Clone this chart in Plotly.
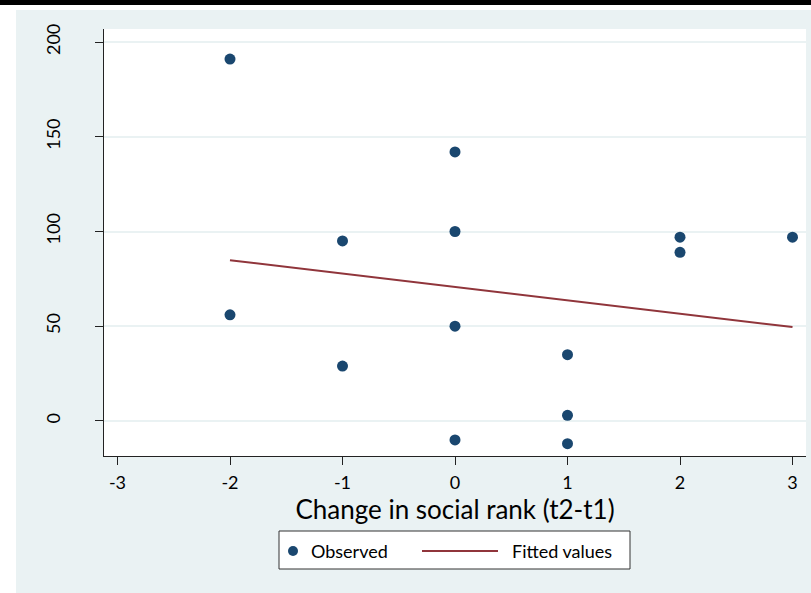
import numpy as np
import plotly.graph_objects as go

# Data
rank_change = [-2, -2, -1, -1, 0, 0, 0, 0, 1, 1, 1, 2, 2, 3]
outcome = [191, 56, 95, 29, 142, 100, 50, -10, 35, 3, -12, 97, 89, 97]
x_ticks = [-3, -2, -1, 0, 1, 2, 3]
x_tick_labels = ["-3", "-2", "-1", "0", "1", "2", "3"]
y_ticks = [0, 50, 100, 150, 200]
y_tick_labels = ["0", "50", "100", "150", "200"]
x_title = "Change in social rank (t2-t1)"
legend_labels = ["Observed", "Fitted values"]

# Linear fit (fitted values)
slope, intercept = np.polyfit(rank_change, outcome, 1)
fit_x = [min(rank_change), max(rank_change)]
fit_y = [intercept + slope * v for v in fit_x]

NAVY = "#1A476F"
MAROON = "#90353B"
BG = "#EAF2F3"
FONT = "Lato"

W, H = 811, 593
L, R, T, B = 104, 5, 29, 137
PW = W - L - R
PH = H - T - B


def px(xp):
    return (xp - L) / PW


def py(yp):
    return (H - B - yp) / PH


fig = go.Figure()
fig.add_trace(go.Scatter(
    x=rank_change, y=outcome, mode="markers", name=legend_labels[0],
    marker=dict(color=NAVY, size=11), showlegend=False))
fig.add_trace(go.Scatter(
    x=fit_x, y=fit_y, mode="lines", name=legend_labels[1],
    line=dict(color=MAROON, width=2), showlegend=False))

shapes = [
    # white margin strips and black top bar (screenshot framing)
    dict(type="rect", xref="paper", yref="paper", x0=px(0), x1=px(16), y0=py(H), y1=py(0),
         fillcolor="white", line=dict(width=0), layer="below"),
    dict(type="rect", xref="paper", yref="paper", x0=px(0), x1=px(W), y0=py(10), y1=py(0),
         fillcolor="white", line=dict(width=0), layer="below"),
    dict(type="rect", xref="paper", yref="paper", x0=px(0), x1=px(W), y0=py(5), y1=py(0),
         fillcolor="black", line=dict(width=0), layer="below"),
    # legend box
    dict(type="rect", xref="paper", yref="paper", x0=px(279), x1=px(630), y0=py(569), y1=py(531),
         fillcolor="white", line=dict(color="#333333", width=1)),
    dict(type="circle", xref="paper", yref="paper", x0=px(288), x1=px(298), y0=py(556), y1=py(546),
         fillcolor=NAVY, line=dict(width=0)),
    dict(type="line", xref="paper", yref="paper", x0=px(422), x1=px(498), y0=py(551), y1=py(551),
         line=dict(color=MAROON, width=2)),
]

annotations = [
    dict(text=legend_labels[0], xref="paper", yref="paper", x=px(309), y=py(551),
         xanchor="left", yanchor="middle", showarrow=False,
         font=dict(family=FONT, size=18, color="black")),
    dict(text=legend_labels[1], xref="paper", yref="paper", x=px(510), y=py(551),
         xanchor="left", yanchor="middle", showarrow=False,
         font=dict(family=FONT, size=18, color="black")),
]

fig.update_layout(
    width=W, height=H,
    margin=dict(l=L, r=R, t=T, b=B, pad=0),
    paper_bgcolor=BG, plot_bgcolor="white",
    font=dict(family=FONT, size=18, color="black"),
    shapes=shapes, annotations=annotations,
    showlegend=False,
    xaxis=dict(
        range=[-3.12, 3.12], tickvals=x_ticks, ticktext=x_tick_labels,
        showgrid=False, zeroline=False,
        showline=True, linecolor="#222222", linewidth=1,
        ticks="outside", ticklen=8, tickcolor="#222222", tickwidth=1,
        ticklabelstandoff=2,
        tickfont=dict(family=FONT, size=18),
        title=dict(text=x_title, font=dict(family=FONT, size=26), standoff=0),
    ),
    yaxis=dict(
        range=[-18.5, 206.9], tickvals=y_ticks, ticktext=y_tick_labels,
        showgrid=True, gridcolor=BG, gridwidth=1.5,
        zeroline=False, showline=True, linecolor="#222222", linewidth=1,
        ticks="outside", ticklen=8, tickcolor="#222222", tickwidth=1,
        tickangle=-90, ticklabelstandoff=28,
        tickfont=dict(family=FONT, size=18),
    ),
)

fig.write_html("out.html")
